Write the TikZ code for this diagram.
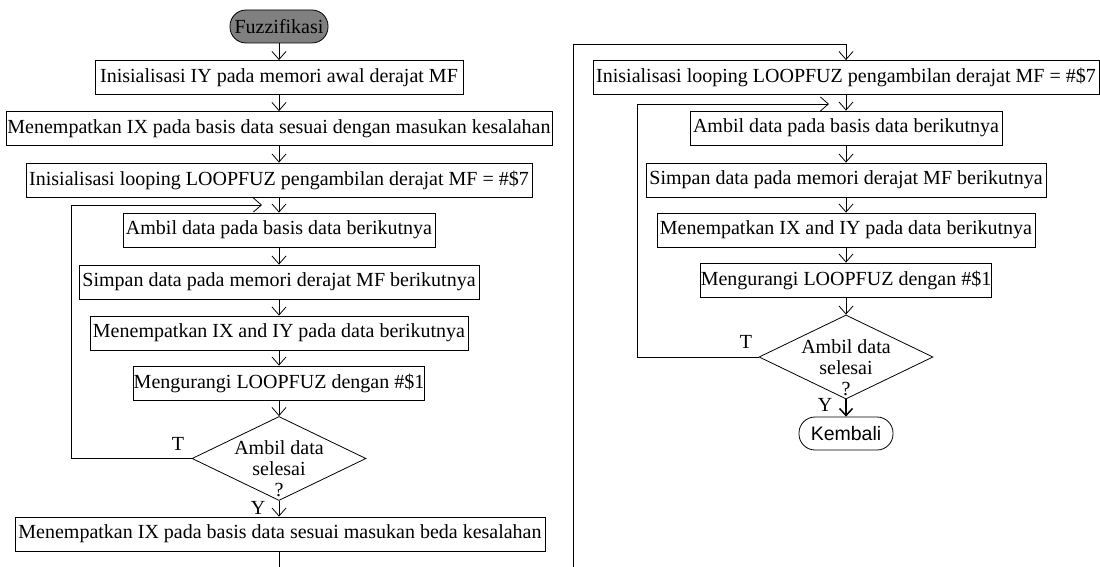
\documentclass[tikz,border=0pt]{standalone}
\usepackage{fontspec}
\setmainfont{Liberation Serif}
\newfontfamily\kfont{Liberation Sans}
\usetikzlibrary{arrows.meta,shapes.geometric,calc}
\begin{document}
\begin{tikzpicture}[x=1pt,y=-1pt,
  every node/.style={font=\fontsize{20}{21}\selectfont},
  proc/.style={draw,line width=0.8pt,minimum height=34pt,inner sep=0pt},
  term/.style={draw,line width=0.8pt,rectangle,rounded corners=16pt,minimum height=33pt,inner sep=0pt},
  dec/.style={draw,line width=0.8pt,diamond,minimum width=174pt,minimum height=84pt,inner sep=0pt},
  dtext/.style={align=center,inner sep=0pt},
  flow/.style={line width=0.8pt,-{Straight Barb[length=8pt,width=14pt]}},
  bflow/.style={line width=1.5pt,-{Straight Barb[length=7pt,width=13pt]}},
  plain/.style={line width=0.8pt},
  lbl/.style={inner sep=0pt}
]
\useasboundingbox (0,0) rectangle (1100,567);

% left column
\node[term,fill=gray,minimum width=98pt] (F) at (279,26.5) {Fuzzifikasi};
\node[proc,minimum width=368pt] (b1) at (279,77.5) {Inisialisasi IY pada memori awal derajat MF};
\node[proc,minimum width=546pt] (b2) at (279,128.5) {Menempatkan IX pada basis data sesuai dengan masukan kesalahan};
\node[proc,minimum width=506pt] (b3) at (279,180) {Inisialisasi looping LOOPFUZ pengambilan derajat MF = \#\$7};
\node[proc,minimum width=312pt] (b4) at (279,230) {Ambil data pada basis data berikutnya};
\node[proc,minimum width=400pt] (b5) at (279,282) {Simpan data pada memori derajat MF berikutnya};
\node[proc,minimum width=378pt] (b6) at (279,333) {Menempatkan IX and IY pada data berikutnya};
\node[proc,minimum width=288pt] (b7) at (279,383) {Mengurangi LOOPFUZ dengan \#\$1};
\node[dec] (d1) at (279,458.5) {};
\node[dtext] (d1t) at (279,469) {Ambil data\\selesai\\?};
\node[proc,minimum width=530pt] (b8) at (280,534) {Menempatkan IX pada basis data sesuai masukan beda kesalahan};
\node[lbl] (t1) at (178,444) {T};
\node[lbl] (y1) at (258,508) {Y};

\coordinate (lx) at (71,205);
\coordinate (lt) at (262,205);
\coordinate (lb) at (279,567);

\draw[flow] (F) -- (b1);
\draw[flow] (b1) -- (b2);
\draw[flow] (b2) -- (b3);
\draw[flow] (b3) -- (b4);
\draw[flow] (b4) -- (b5);
\draw[flow] (b5) -- (b6);
\draw[flow] (b6) -- (b7);
\draw[flow] (b7) -- (d1);
\draw[flow] (d1.south) -- (d1.south |- b8.north);
\draw[plain] (d1.south |- b8.south) -- (lb);
\draw[flow] (d1.west) -- (d1.west -| lx) -- (lx) -- (lt);

% right column
\node[proc,minimum width=506pt] (r1) at (846,77.5) {Inisialisasi looping LOOPFUZ pengambilan derajat MF = \#\$7};
\node[proc,minimum width=312pt] (r2) at (846,128) {Ambil data pada basis data berikutnya};
\node[proc,minimum width=400pt] (r3) at (846,180) {Simpan data pada memori derajat MF berikutnya};
\node[proc,minimum width=378pt] (r4) at (846,230) {Menempatkan IX and IY pada data berikutnya};
\node[proc,minimum width=288pt] (r5) at (846,280) {Mengurangi LOOPFUZ dengan \#\$1};
\node[dec] (d2) at (846,357) {};
\node[dtext] (d2t) at (846,367.5) {Ambil data\\selesai\\?};
\node[term,minimum width=94pt,font=\kfont\fontsize{19.5}{21}\selectfont] (k) at (846,433.5) {Kembali};
\node[lbl] (t2) at (746,342) {T};
\node[lbl] (y2) at (825,405) {Y};

\coordinate (ob) at (573,567);
\coordinate (ot) at (573,44);
\coordinate (rx) at (637,104);
\coordinate (rt) at (829,104);

\draw[flow] (ob) -- (ot) -- (ot -| r1) -- (r1);
\draw[flow] (r1) -- (r2);
\draw[flow] (r2) -- (r3);
\draw[flow] (r3) -- (r4);
\draw[flow] (r4) -- (r5);
\draw[flow] (r5) -- (d2);
\draw[bflow] (d2) -- (k);
\draw[flow] (d2.west) -- (d2.west -| rx) -- (rx) -- (rt);
\end{tikzpicture}
\end{document}
